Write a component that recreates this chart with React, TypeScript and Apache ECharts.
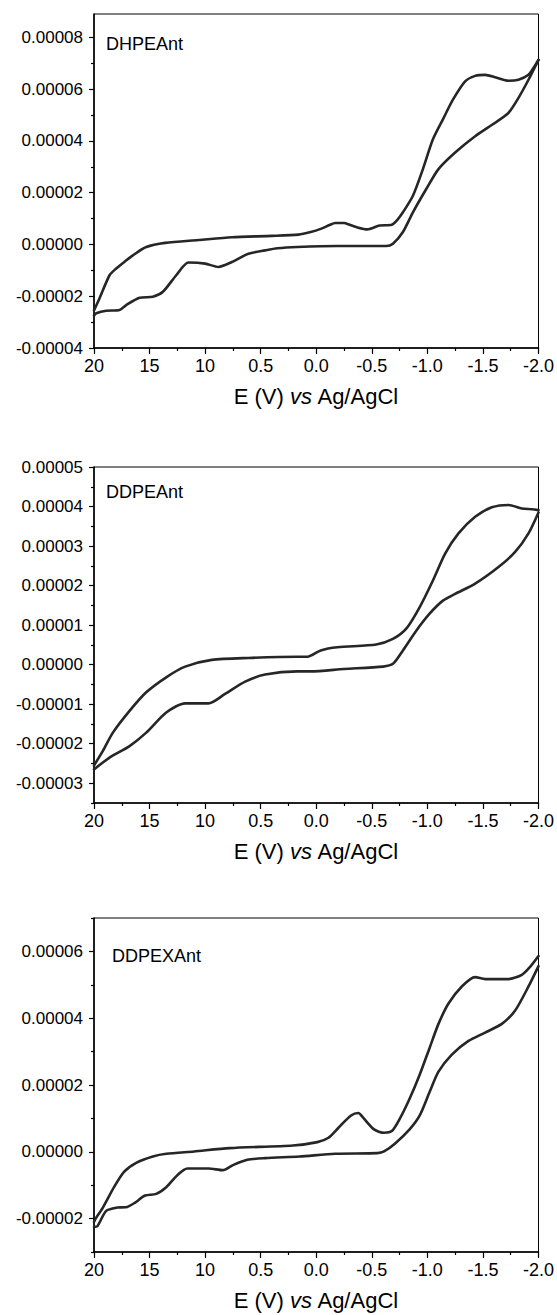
import { useEffect, useRef } from "react";
import * as echarts from "echarts";

// ---------- tick labels ----------
const xTickLabels = ["20", "15", "10", "0.5", "0.0", "-0.5", "-1.0", "-1.5", "-2.0"];

const y1Major = [-0.00004, -0.00002, 0, 0.00002, 0.00004, 0.00006, 0.00008];
const y1Minor = [-0.00003, -0.00001, 0.00001, 0.00003, 0.00005, 0.00007];
const y2Major = [-0.00003, -0.00002, -0.00001, 0, 0.00001, 0.00002, 0.00003, 0.00004, 0.00005];
const y2Minor = [-0.000035, -0.000025, -0.000015, -0.000005, 0.000005, 0.000015, 0.000025, 0.000035, 0.000045];
const y3Major = [-0.00002, 0, 0.00002, 0.00004, 0.00006];
const y3Minor = [-0.00003, -0.00001, 0.00001, 0.00003, 0.00005, 0.00007];

const panelNames = ["DHPEAnt", "DDPEAnt", "DDPEXAnt"];

// ---------- DHPEAnt ----------
const dhpeaUpperE = [2.0, 1.95, 1.86, 1.80, 1.72, 1.65, 1.53, 1.36, 1.06, 0.76, 0.40, 0.16, 0.05, -0.04, -0.12, -0.17, -0.25, -0.30, -0.36, -0.46, -0.57, -0.68, -0.73, -0.78, -0.87, -0.96, -1.05, -1.14, -1.23, -1.34, -1.43, -1.52, -1.61, -1.73, -1.82, -1.91, -1.96, -2.0];
const dhpeaUpperI = [-2.55e-5, -2.08e-5, -1.19e-5, -0.93e-5, -0.65e-5, -0.42e-5, -0.10e-5, 0.06e-5, 0.17e-5, 0.28e-5, 0.33e-5, 0.38e-5, 0.48e-5, 0.60e-5, 0.75e-5, 0.83e-5, 0.83e-5, 0.76e-5, 0.67e-5, 0.58e-5, 0.73e-5, 0.76e-5, 0.95e-5, 1.24e-5, 1.88e-5, 2.91e-5, 4.06e-5, 4.83e-5, 5.59e-5, 6.30e-5, 6.51e-5, 6.55e-5, 6.46e-5, 6.32e-5, 6.36e-5, 6.55e-5, 6.85e-5, 7.13e-5];
const dhpeaLowerE = [2.0, 1.98, 1.89, 1.77, 1.71, 1.59, 1.47, 1.38, 1.26, 1.15, 1.0, 0.88, 0.76, 0.61, 0.46, 0.35, 0.17, -0.19, -0.63, -0.69, -0.78, -0.87, -0.99, -1.10, -1.25, -1.43, -1.61, -1.73, -1.82, -1.91, -2.0];
const dhpeaLowerI = [-2.75e-5, -2.66e-5, -2.56e-5, -2.53e-5, -2.34e-5, -2.06e-5, -2.02e-5, -1.83e-5, -1.19e-5, -0.70e-5, -0.74e-5, -0.87e-5, -0.68e-5, -0.36e-5, -0.23e-5, -0.15e-5, -0.10e-5, -0.06e-5, -0.06e-5, 0.03e-5, 0.48e-5, 1.24e-5, 2.14e-5, 2.91e-5, 3.55e-5, 4.18e-5, 4.70e-5, 5.08e-5, 5.66e-5, 6.36e-5, 7.13e-5];

// ---------- DDPEAnt ----------
const ddpeaUpperE = [2.0, 1.92, 1.83, 1.68, 1.53, 1.35, 1.18, 0.94, 0.61, 0.17, 0.08, -0.04, -0.19, -0.54, -0.69, -0.81, -0.93, -1.05, -1.16, -1.28, -1.43, -1.58, -1.73, -1.85, -1.94, -2.0];
const ddpeaUpperI = [-2.55e-5, -2.18e-5, -1.72e-5, -1.17e-5, -0.70e-5, -0.32e-5, -0.05e-5, 0.12e-5, 0.17e-5, 0.20e-5, 0.20e-5, 0.36e-5, 0.44e-5, 0.51e-5, 0.65e-5, 0.91e-5, 1.45e-5, 2.13e-5, 2.81e-5, 3.32e-5, 3.74e-5, 3.98e-5, 4.04e-5, 3.95e-5, 3.93e-5, 3.91e-5];
const ddpeaLowerE = [2.0, 1.86, 1.68, 1.53, 1.35, 1.18, 0.97, 0.82, 0.64, 0.46, 0.17, 0.05, -0.25, -0.60, -0.69, -0.78, -0.90, -1.02, -1.14, -1.25, -1.43, -1.64, -1.79, -1.91, -2.0];
const ddpeaLowerI = [-2.65e-5, -2.35e-5, -2.06e-5, -1.72e-5, -1.21e-5, -0.98e-5, -0.98e-5, -0.74e-5, -0.43e-5, -0.25e-5, -0.17e-5, -0.17e-5, -0.11e-5, -0.05e-5, 0.02e-5, 0.36e-5, 0.86e-5, 1.29e-5, 1.62e-5, 1.79e-5, 2.05e-5, 2.47e-5, 2.85e-5, 3.32e-5, 3.85e-5];

// ---------- DDPEXAnt ----------
const ddpexUpperE = [2.0, 1.98, 1.92, 1.82, 1.73, 1.62, 1.47, 1.35, 1.10, 0.78, 0.21, -0.01, -0.11, -0.20, -0.31, -0.38, -0.42, -0.52, -0.61, -0.68, -0.75, -0.84, -0.93, -1.02, -1.10, -1.19, -1.31, -1.43, -1.52, -1.73, -1.85, -1.93, -2.0];
const ddpexUpperI = [-2.1e-5, -1.97e-5, -1.67e-5, -1.06e-5, -0.60e-5, -0.33e-5, -0.14e-5, -0.06e-5, 0.01e-5, 0.11e-5, 0.19e-5, 0.29e-5, 0.42e-5, 0.72e-5, 1.08e-5, 1.16e-5, 1.03e-5, 0.67e-5, 0.57e-5, 0.62e-5, 0.98e-5, 1.59e-5, 2.30e-5, 3.11e-5, 3.83e-5, 4.44e-5, 4.95e-5, 5.23e-5, 5.17e-5, 5.17e-5, 5.30e-5, 5.56e-5, 5.86e-5];
const ddpexLowerE = [2.0, 1.97, 1.89, 1.79, 1.70, 1.63, 1.54, 1.44, 1.35, 1.25, 1.16, 0.97, 0.84, 0.75, 0.62, 0.46, 0.15, -0.17, -0.55, -0.61, -0.71, -0.84, -0.93, -1.02, -1.10, -1.22, -1.37, -1.52, -1.67, -1.79, -1.91, -2.0];
const ddpexLowerI = [-2.25e-5, -2.23e-5, -1.77e-5, -1.67e-5, -1.65e-5, -1.52e-5, -1.31e-5, -1.26e-5, -1.06e-5, -0.70e-5, -0.50e-5, -0.50e-5, -0.55e-5, -0.40e-5, -0.24e-5, -0.19e-5, -0.14e-5, -0.06e-5, -0.04e-5, 0.01e-5, 0.25e-5, 0.67e-5, 1.08e-5, 1.79e-5, 2.40e-5, 2.91e-5, 3.32e-5, 3.57e-5, 3.83e-5, 4.23e-5, 4.95e-5, 5.56e-5];

const FONT = "'Liberation Sans', Arial, Helvetica, sans-serif";

function pairs(e: number[], i: number[]) {
  return e.map((x, k) => [x, i[k]]);
}

export default function App() {
  const ref = useRef<HTMLDivElement>(null);

  useEffect(() => {
    if (!ref.current) return;
    const chart = echarts.init(ref.current, null, { renderer: "svg" });

    const panels = [
      { top: 14, height: 334, min: -0.00004, max: 0.000089, major: y1Major, minor: y1Minor,
        upper: pairs(dhpeaUpperE, dhpeaUpperI), lower: pairs(dhpeaLowerE, dhpeaLowerI), lx: 106, ly: 44 },
      { top: 467, height: 336, min: -0.000035, max: 0.00005, major: y2Major, minor: y2Minor,
        upper: pairs(ddpeaUpperE, ddpeaUpperI), lower: pairs(ddpeaLowerE, ddpeaLowerI), lx: 106, ly: 492 },
      { top: 918, height: 334, min: -0.00003, max: 0.00007, major: y3Major, minor: y3Minor,
        upper: pairs(ddpexUpperE, ddpexUpperI), lower: pairs(ddpexLowerE, ddpexLowerI), lx: 112, ly: 956 },
    ];

    const grid: any[] = [];
    const xAxis: any[] = [];
    const yAxis: any[] = [];
    const series: any[] = [];
    const graphic: any[] = [];

    panels.forEach((p, idx) => {
      grid.push({
        left: 94, top: p.top, width: 450, height: p.height,
        show: true, borderColor: "#000", borderWidth: 1, backgroundColor: "transparent",
      });
      xAxis.push({
        type: "value", gridIndex: idx, min: -2, max: 2, interval: 0.5, inverse: true,
        axisLine: { show: true, onZero: false, lineStyle: { color: "#000", width: 1.5 } },
        axisTick: { show: true, length: 6, lineStyle: { color: "#000", width: 1.2 } },
        minorTick: { show: true, splitNumber: 2, length: 3, lineStyle: { color: "#000", width: 1.2 } },
        splitLine: { show: false },
        axisLabel: {
          color: "#000", fontSize: 18, fontFamily: FONT, margin: 9,
          formatter: (v: number) => xTickLabels[Math.round((2 - v) / 0.5)] ?? "",
        },
        name: "{n|E (V) }{i|vs}{n| Ag/AgCl}",
        nameLocation: "middle", nameGap: 37,
        nameTextStyle: {
          rich: {
            n: { fontSize: 22, fontFamily: FONT, color: "#000" },
            i: { fontSize: 22, fontFamily: FONT, color: "#000", fontStyle: "italic" },
          },
        },
      });
      yAxis.push({
        type: "value", gridIndex: idx, min: p.min, max: p.max, position: "left",
        axisLine: { show: true, onZero: false, lineStyle: { color: "#000", width: 1.5 } },
        axisTick: { show: true, length: 5, customValues: p.major, lineStyle: { color: "#000", width: 1.2 } },
        splitLine: { show: false },
        axisLabel: {
          customValues: p.major, color: "#000", fontSize: 17, fontFamily: FONT, margin: 11,
          formatter: (v: number) => (Math.abs(v) < 1e-12 ? "0.00000" : v.toFixed(5)),
        },
      });
      yAxis.push({
        type: "value", gridIndex: idx, min: p.min, max: p.max, position: "left",
        axisLine: { show: false, onZero: false },
        axisTick: { show: true, length: 3, customValues: p.minor, lineStyle: { color: "#000", width: 1.2 } },
        splitLine: { show: false },
        axisLabel: { show: false },
      });
      const yi = idx * 2;
      [p.upper, p.lower].forEach((d, k) => {
        series.push({
          type: "line", xAxisIndex: idx, yAxisIndex: yi, data: d,
          name: `${panelNames[idx]}-${k === 0 ? "upper" : "lower"}`,
          showSymbol: false, symbol: "none", smooth: 0.25, silent: true,
          lineStyle: { color: "#262626", width: 2.6, join: "round", cap: "round" },
        });
      });
      graphic.push({
        type: "text", x: p.lx, y: p.ly,
        style: { text: panelNames[idx], fontSize: 18, fontFamily: FONT, fill: "#000", verticalAlign: "middle" },
      });
    });

    chart.setOption({
      animation: false,
      backgroundColor: "#fff",
      grid, xAxis, yAxis, series, graphic,
    });

    return () => chart.dispose();
  }, []);

  return (
    <div
      ref={ref}
      style={{ position: "absolute", left: 0, top: 0, width: 557, height: 1315, background: "#fff" }}
    />
  );
}
